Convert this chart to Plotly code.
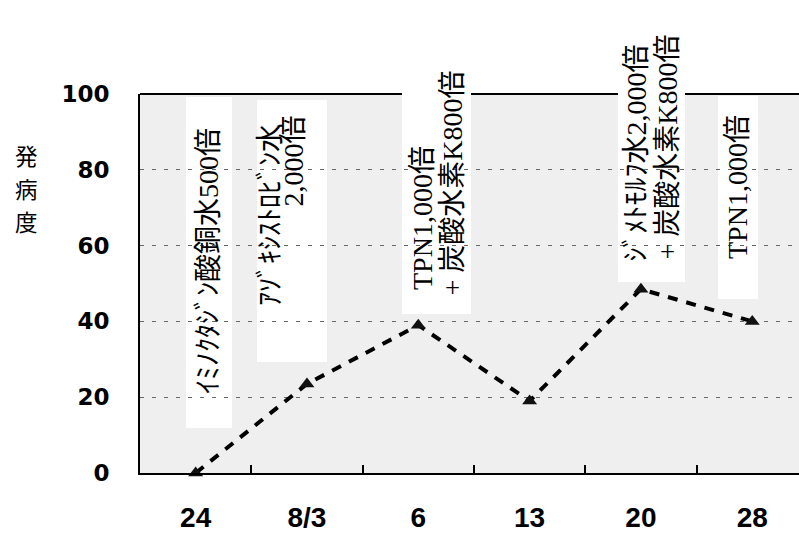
import plotly.graph_objects as go

# Survey dates and disease severity
dates = ["24", "8/3", "6", "13", "20", "28"]
severity = [0, 23.5, 39, 19, 48.5, 40]
y_ticks = [0, 20, 40, 60, 80, 100]

# Spray treatments applied on each date, one entry per text column
treatment_lines = [
    "ｲﾐﾉｸﾀｼﾞﾝ酸銅水500倍",
    "ｱｿﾞｷｼｽﾄﾛﾋﾞﾝ水",
    "2,000倍",
    "TPN1,000倍",
    "+ 炭酸水素K800倍",
    "ｼﾞﾒﾄﾓﾙﾌ水2,000倍",
    "+ 炭酸水素K800倍",
    "TPN1,000倍",
]

W, H = 799, 535
L, R, T, B = 140, 0, 94, 62
plot_w = W - L - R
plot_h = H - T - B


def fx(px):
    """Pixel column -> paper x."""
    return (px - L) / plot_w


def fy(py):
    """Pixel row -> paper y."""
    return (H - B - py) / plot_h


fig = go.Figure()

fig.add_trace(go.Scatter(
    x=dates, y=severity,
    mode="lines+markers",
    line=dict(color="black", width=4, dash="10px,9px"),
    marker=dict(symbol="triangle-up", size=13, color="#111111"),
    cliponaxis=False,
    showlegend=False,
))

shapes = [
    # solid top edge of the frame (hidden where label panels cover it)
    dict(type="line", xref="paper", yref="paper", x0=0, x1=1, y0=1, y1=1,
         line=dict(color="black", width=2), layer="below"),
]

# White label panels (pixel boxes: left, top, right, bottom)
boxes = [
    (186, 97, 232, 428),
    (257, 100, 327, 362),
    (402, 58, 471, 314),
    (618, 4, 685, 282),
    (718, 96, 758, 299),
]
for (bl, bt, br, bb) in boxes:
    shapes.append(dict(
        type="rect", xref="paper", yref="paper",
        x0=fx(bl), x1=fx(br), y0=fy(bb), y1=fy(bt),
        fillcolor="white", line=dict(width=0), layer="between",
    ))

# Column placement: (centre x, anchor y, y-anchor) in pixels
placements = [
    (208, 396, "bottom"),
    (270, 122, "top"),
    (293, 114, "top"),
    (422, 292, "bottom"),
    (452, 298, "bottom"),
    (636, 264, "bottom"),
    (667, 262, "bottom"),
    (737, 261, "bottom"),
]
label_font = dict(family="Liberation Serif, Noto Sans CJK JP", size=28, color="black")
annotations = []
for text, (cx, cy, ya) in zip(treatment_lines, placements):
    annotations.append(dict(
        x=fx(cx), y=fy(cy), xref="paper", yref="paper",
        xanchor="center", yanchor=ya,
        text=text, textangle=-90, showarrow=False,
        font=label_font,
    ))

# Vertical axis title, one character per row
for ch, cy in zip("発病度", [155, 188, 221]):
    annotations.append(dict(
        x=fx(26), y=fy(cy), xref="paper", yref="paper",
        xanchor="center", yanchor="middle",
        text=ch, showarrow=False,
        font=dict(family="Noto Sans CJK JP", size=22.5, color="black"),
    ))

fig.update_layout(
    width=W, height=H,
    margin=dict(l=L, r=R, t=T, b=B, autoexpand=False),
    paper_bgcolor="white",
    plot_bgcolor="#efefef",
    shapes=shapes,
    annotations=annotations,
    xaxis=dict(
        type="category", categoryorder="array", categoryarray=dates,
        range=[-0.5, 5.42], automargin=False,
        tickson="boundaries", ticks="inside", ticklen=8, tickwidth=1.5,
        tickcolor="black",
        showline=True, linecolor="black", linewidth=2,
        showgrid=False, zeroline=False,
        ticklabelstandoff=18,
        tickfont=dict(family="Liberation Sans", size=28, color="black", weight="bold"),
    ),
    yaxis=dict(
        range=[0, 100], tickvals=y_ticks, automargin=False,
        showline=True, linecolor="black", linewidth=2,
        showgrid=True, gridcolor="#666666", griddash="4px,8px", gridwidth=1,
        zeroline=False, ticks="",
        ticklabelstandoff=24,
        tickfont=dict(family="DejaVu Sans", size=23, color="black", weight="bold"),
    ),
)

fig.write_html("out.html")
